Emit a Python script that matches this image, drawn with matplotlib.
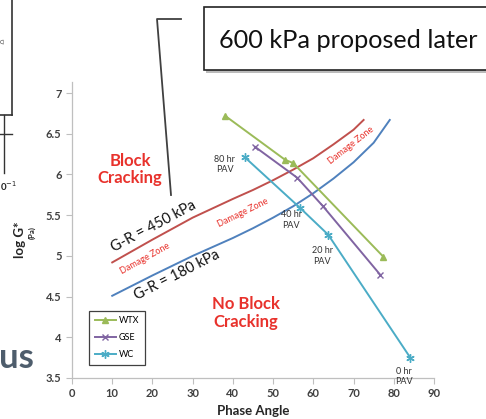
import matplotlib
matplotlib.use("Agg")
import matplotlib.pyplot as plt
from matplotlib.patches import Rectangle

plt.rcParams['font.family'] = ['Lato', 'DejaVu Sans']

# ---- data ----
gr450_phase = [10, 15, 20, 25, 30, 35, 40, 45, 50, 55, 60, 65, 70, 72.5]
gr450_logg = [4.92, 5.06, 5.20, 5.335, 5.47, 5.585, 5.70, 5.81, 5.93, 6.06, 6.20, 6.37, 6.55, 6.67]

gr180_phase = [10, 15, 20, 25, 30, 35, 40, 45, 50, 55, 60, 65, 70, 75, 79]
gr180_logg = [4.51, 4.635, 4.76, 4.88, 5.00, 5.11, 5.22, 5.34, 5.47, 5.61, 5.77, 5.95, 6.15, 6.39, 6.67]

wtx_phase = [38.1, 53.0, 55.0, 77.4]
wtx_logg = [6.72, 6.18, 6.14, 4.99]
gse_phase = [45.5, 56.0, 62.4, 76.6]
gse_logg = [6.34, 5.96, 5.61, 4.77]
wc_phase = [43.0, 56.7, 63.7, 84.1]
wc_logg = [6.21, 5.59, 5.26, 3.75]

pav_labels = ["80 hr\nPAV", "40 hr\nPAV", "20 hr\nPAV", "0 hr\nPAV"]
pav_x = [38.0, 54.5, 62.2, 82.5]
pav_y = [6.12, 5.44, 5.00, 3.52]

xticks = [0, 10, 20, 30, 40, 50, 60, 70, 80, 90]
yticks = [3.5, 4, 4.5, 5, 5.5, 6, 6.5, 7]

# colours (Excel 2007 palette)
RED = '#c0504d'
BLUE = '#4f81bd'
GREEN = '#9bbb59'
PURPLE = '#8064a2'
CYAN = '#4bacc6'
TXTRED = '#e8322c'

W, H = 486, 419
fig = plt.figure(figsize=(W / 100, H / 100), dpi=100)
fig.patch.set_facecolor('white')

# ---- slide decorations (pixel coordinates overlay) ----
deco = fig.add_axes([0, 0, 1, 1])
deco.set_xlim(0, W)
deco.set_ylim(H, 0)
deco.axis('off')
deco.plot([12, 12], [0, 115], color='#333333', lw=1.2)
deco.plot([0, 12], [115, 115], color='#333333', lw=1.2)
deco.plot([4, 4], [115, 173], color='#333333', lw=1.0)
deco.plot([0, 12], [134, 134], color='#333333', lw=1.0)
deco.text(0, 42, "C)", fontsize=4, color='#333333', va='center', ha='left')
deco.text(0, 186, "0$^{-1}$", fontsize=7, fontweight='bold', color='#222222', va='center', ha='left')
deco.text(34, 358, "us", fontsize=25, fontweight='bold', color='#4e5d6c', ha='right', va='center')

# callout line and box
deco.plot([181, 157, 171], [19, 19, 195], color='#404040', lw=1.3)
deco.add_patch(Rectangle((206, 10), 290, 63, facecolor='#bbbbbb', edgecolor='none'))
deco.add_patch(Rectangle((204, 7), 290, 63, facecolor='white', edgecolor='#222222', lw=1.2))
deco.text(219, 40, "600 kPa proposed later", fontsize=18.2, color='#111111', va='center', ha='left')

# ---- chart ----
ax = fig.add_axes([72 / W, 1 - 378 / H, (434 - 72) / W, (378 - 82) / H])
ax.patch.set_alpha(0)
ax.set_xlim(0, 90)
ax.set_ylim(3.5, 3.5 + (378 - 82) / 81.4)

ax.plot(gr450_phase, gr450_logg, color=RED, lw=1.4)
ax.plot(gr180_phase, gr180_logg, color=BLUE, lw=1.4)
ax.plot(wtx_phase, wtx_logg, color=GREEN, lw=1.4, marker='^', ms=5, label='WTX')
ax.plot(gse_phase, gse_logg, color=PURPLE, lw=1.4, marker='x', ms=5, mew=1.0, label='GSE')
ax.plot(wc_phase, wc_logg, color=CYAN, lw=1.4, marker=(6, 2, 0), ms=6, mew=1.0, label='WC')

for s in ['top', 'right']:
    ax.spines[s].set_visible(False)
for s in ['left', 'bottom']:
    ax.spines[s].set_color('#bfbfbf')
    ax.spines[s].set_linewidth(0.9)
ax.set_xticks(xticks)
ax.set_yticks(yticks)
ax.set_yticklabels([f"{v:g}" for v in yticks])
ax.tick_params(colors='#bfbfbf', labelcolor='#404040', labelsize=8, length=4, width=0.8)
for lab in ax.get_xticklabels() + ax.get_yticklabels():
    lab.set_fontweight('bold')

ax.set_xlabel("Phase Angle", fontsize=9.5, fontweight='bold', color='#262626', labelpad=4)

# y label in two sizes
fig.text(20 / W, 1 - 240 / H, "log G*", rotation=90, fontsize=9.5, fontweight='bold',
         color='#262626', ha='center', va='center')
fig.text(32 / W, 1 - 233 / H, "(Pa)", rotation=90, fontsize=5.5, fontweight='bold',
         color='#262626', ha='center', va='center')

# region labels
ax.text(14.4, 6.06, "Block\nCracking", color=TXTRED, fontsize=12, fontweight='bold',
        ha='center', va='center', linespacing=1.1)
ax.text(43.3, 4.30, "No Block\nCracking", color=TXTRED, fontsize=12, fontweight='bold',
        ha='center', va='center', linespacing=1.1)

ax.text(20.3, 5.36, "G-R = 450 kPa", fontsize=10.5, color='#111111', rotation=28,
        ha='center', va='center', rotation_mode='anchor')
ax.text(26.0, 4.76, "G-R = 180 kPa", fontsize=10.5, color='#111111', rotation=27,
        ha='center', va='center', rotation_mode='anchor')

ax.text(18.2, 4.97, "Damage Zone", fontsize=6.5, color=TXTRED, rotation=29,
        ha='center', va='center', rotation_mode='anchor')
ax.text(42.5, 5.53, "Damage Zone", fontsize=6.5, color=TXTRED, rotation=26,
        ha='center', va='center', rotation_mode='anchor')
ax.text(69.4, 6.36, "Damage Zone", fontsize=6.5, color=TXTRED, rotation=38,
        ha='center', va='center', rotation_mode='anchor')

for lab, x, y in zip(pav_labels, pav_x, pav_y):
    ax.text(x, y, lab, fontsize=6.5, color='#333333', ha='center', va='center', linespacing=1.2)

leg = ax.legend(loc='lower left', bbox_to_anchor=(0.035, 0.03), fontsize=6.5,
                handlelength=2.4, handletextpad=0.3, labelspacing=0.9,
                borderpad=0.6, fancybox=False, framealpha=1)
leg.get_frame().set_edgecolor('#404040')
leg.get_frame().set_linewidth(0.9)

fig.savefig("out.png", dpi=100)
